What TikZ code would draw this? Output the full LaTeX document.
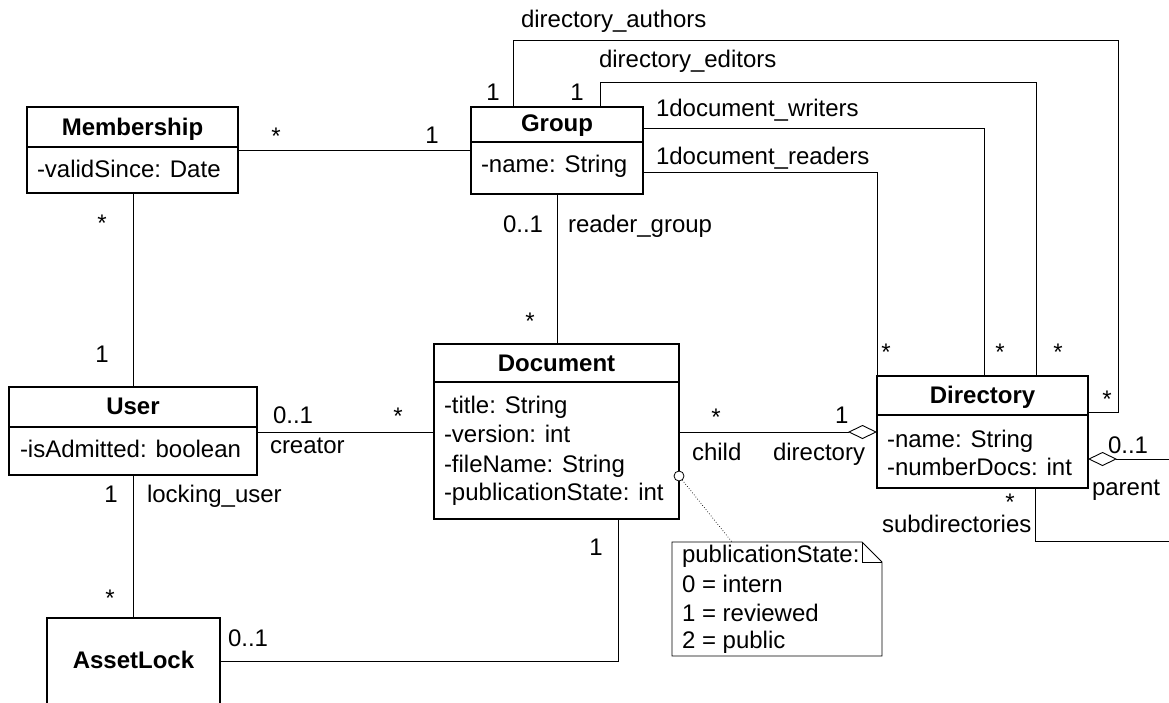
\documentclass[tikz,border=0pt]{standalone}
\usepackage{fontspec}
\setmainfont{Liberation Sans}
\usetikzlibrary{arrows.meta}
\tikzset{aggr/.tip={Diamond[open,length=29pt,width=14pt,line width=0.9pt]}}
\begin{document}
\begin{tikzpicture}[x=1pt,y=-1pt,
  every node/.style={font=\fontsize{24}{29}\selectfont, inner sep=0pt, outer sep=0pt},
  cls/.style={draw, line width=1.1pt, anchor=north west},
  sep/.style={line width=1.1pt},
  assoc/.style={line width=0.9pt},
  lbl/.style={anchor=base west},
  mult/.style={anchor=base},
  ttl/.style={anchor=base, font=\fontsize{24}{29}\selectfont\bfseries}
]
\useasboundingbox (0,0) rectangle (1169,702);

% ---------- classes ----------
\node[cls, minimum width=211, minimum height=86] (membership) at (27,107) {};
\draw[sep] (membership.west |- 0,147) -- (membership.east |- 0,147);
\node[ttl] (membershipT) at (132.5,135) {Membership};
\node[lbl] (membershipA) at (37,177) {-validSince: Date};

\node[cls, minimum width=172, minimum height=87] (group) at (471,107) {};
\draw[sep] (group.west |- 0,142) -- (group.east |- 0,142);
\node[ttl] (groupT) at (557,131) {Group};
\node[lbl] (groupA) at (481,172) {-name: String};

\node[cls, minimum width=248, minimum height=88] (user) at (9,387) {};
\draw[sep] (user.west |- 0,427) -- (user.east |- 0,427);
\node[ttl] (userT) at (133,414) {User};
\node[lbl] (userA) at (20,457) {-isAdmitted: boolean};

\node[cls, minimum width=245, minimum height=175] (document) at (434,344) {};
\draw[sep] (document.west |- 0,382) -- (document.east |- 0,382);
\node[ttl] (documentT) at (556.5,371) {Document};
\node[lbl] (documentA1) at (444,413) {-title: String};
\node[lbl] (documentA2) at (444,442) {-version: int};
\node[lbl] (documentA3) at (444,472) {-fileName: String};
\node[lbl] (documentA4) at (444,500) {-publicationState: int};

\node[cls, minimum width=211, minimum height=112] (directory) at (877,376) {};
\draw[sep] (directory.west |- 0,415) -- (directory.east |- 0,415);
\node[ttl] (directoryT) at (982.5,403) {Directory};
\node[lbl] (directoryA1) at (887,447) {-name: String};
\node[lbl] (directoryA2) at (887,475) {-numberDocs: int};

\node[cls, minimum width=173, minimum height=110] (assetlock) at (47,618) {};
\node[ttl] (assetlockT) at (133.5,668) {AssetLock};

% ---------- note ----------
\node[anchor=north west, minimum width=210, minimum height=114] (note) at (672,542) {};
\draw[line width=0.9pt] (note.north west) -- ([xshift=-20pt]note.north east)
  -- ([yshift=-20pt]note.north east) -- (note.south east) -- (note.south west) -- cycle;
\draw[line width=0.9pt] ([xshift=-20pt]note.north east) -- ([xshift=-20pt,yshift=-20pt]note.north east)
  -- ([yshift=-20pt]note.north east);
\node[lbl] (noteL1) at (682,562) {publicationState:};
\node[lbl] (noteL2) at (682,592) {0 = intern};
\node[lbl] (noteL3) at (682,621) {1 = reviewed};
\node[lbl] (noteL4) at (682,648) {2 = public};
\node[draw, circle, minimum size=10pt, line width=0.8pt, fill=white] (anchorpt) at (679,476) {};
\draw[dotted, line width=0.7pt] (anchorpt) -- (note.north -| 732,0);

% ---------- associations ----------
\draw[assoc] (membership.east |- 0,150) -- (group.west |- 0,150);
\draw[assoc] (membership.south -| 133,0) -- (user.north -| 133,0);
\draw[assoc] (user.east |- 0,432) -- (document.west |- 0,432);
\draw[assoc] (user.south -| 133,0) -- (assetlock.north -| 133,0);
\draw[assoc] (assetlock.east |- 0,661) -| (document.south -| 618,0);
\draw[assoc] (group.south -| 557,0) -- (document.north -| 557,0);
\draw[assoc, -aggr] (document.east |- 0,432) -- (directory.west |- 0,432);

% directory self-association (leaves the picture on the right)
\coordinate (parentEnd) at (1169,459);
\coordinate (subEnd) at (1169,541);
\draw[assoc, aggr-] (directory.east |- 0,459) -- (parentEnd);
\draw[assoc] (directory.south -| 1035,0) |- (subEnd);

% group to directory roles
\draw[assoc] (group.north -| 513,0) |- (1118,40) |- (directory.east |- 0,412);
\draw[assoc] (group.north -| 600,0) |- (1036,82) -- (directory.north -| 1036,0);
\draw[assoc] (group.east |- 0,128) -| (directory.north -| 984,0);
\draw[assoc] (group.east |- 0,172) -| (directory.north west);

% ---------- role names and multiplicities ----------
\node[lbl] (rAuthors) at (521,27) {directory\_authors};
\node[lbl] (rEditors) at (599,67) {directory\_editors};
\node[mult] (mAuthors) at (493,100) {1};
\node[mult] (mEditors) at (577,100) {1};
\node[lbl] (rWriters) at (656,116) {1document\_writers};
\node[lbl] (rReaders) at (656,164) {1document\_readers};

\node[mult] (mMemG) at (276,144) {*};
\node[mult] (mGMem) at (432,143) {1};
\node[mult] (mMemU) at (102,231) {*};
\node[mult] (mUMem) at (102,362) {1};

\node[lbl] (mGDoc) at (503,232) {0..1};
\node[lbl] (rReader) at (568,232) {reader\_group};
\node[mult] (mDocG) at (530,329) {*};

\node[mult] (mDirR) at (886,360) {*};
\node[mult] (mDirW) at (1000,360) {*};
\node[mult] (mDirE) at (1058,360) {*};
\node[mult] (mDirA) at (1107,407) {*};

\node[lbl] (mParent) at (1108,453) {0..1};
\node[lbl] (rParent) at (1092,495) {parent};
\node[mult] (mSub) at (1010,510) {*};
\node[lbl] (rSub) at (882,532) {subdirectories};

\node[mult] (mChild) at (716,425) {*};
\node[lbl] (mDir) at (835,423) {1};
\node[lbl] (rChild) at (692,460) {child};
\node[lbl] (rDir) at (773,460) {directory};

\node[lbl] (mCreator) at (273,423) {0..1};
\node[mult] (mDocU) at (398,424) {*};
\node[lbl] (rCreator) at (270,453) {creator};

\node[mult] (mLockU) at (111,502) {1};
\node[lbl] (rLock) at (147,502) {locking\_user};
\node[mult] (mLockA) at (110,606) {*};
\node[lbl] (mLockDoc) at (228,646) {0..1};
\node[mult] (mDocLock) at (596,555) {1};
\end{tikzpicture}
\end{document}
